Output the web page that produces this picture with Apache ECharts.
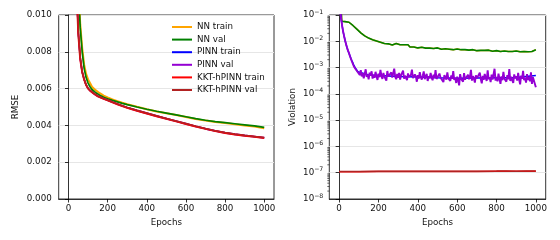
<!DOCTYPE html>
<html>
<head>
<meta charset="utf-8">
<script src="https://cdn.jsdelivr.net/npm/echarts@6/dist/echarts.min.js"></script>
<style>html,body{margin:0;padding:0;background:#fff;}#c{width:560px;height:240px;}</style>
</head>
<body>
<div id="c"></div>
<script>
// ---------- data ----------
const seriesNames = ['NN train', 'NN val', 'PINN train', 'PINN val', 'KKT-hPINN train', 'KKT-hPINN val'];
const seriesColors = ['#ffa500', '#008000', '#0000ff', '#9400d3', '#ff0000', '#b22222'];
const xTicks = [0, 200, 400, 600, 800, 1000];

// RMSE (left panel)
const rmseEpochs = [1, 10, 20, 30, 40, 50, 60, 70, 80, 90, 100, 110, 120, 130, 140, 150, 160, 180, 200, 225, 250, 275, 300, 350, 400, 450, 500, 550, 600, 650, 700, 750, 800, 850, 900, 950, 1000];
const rmseNNTrain = [0.061, 0.041, 0.029, 0.021, 0.0155, 0.0117, 0.0095, 0.0082, 0.0073, 0.0068, 0.0065, 0.0063, 0.0061, 0.0060, 0.00590, 0.00582, 0.00575, 0.00562, 0.00552, 0.00541, 0.00532, 0.00523, 0.00515, 0.00501, 0.00488, 0.00476, 0.00466, 0.00456, 0.00446, 0.00435, 0.00426, 0.00419, 0.00413, 0.00406, 0.00400, 0.00394, 0.00385];
const rmseNNVal   = [0.060, 0.040, 0.028, 0.020, 0.0150, 0.0115, 0.0093, 0.0080, 0.0071, 0.0066, 0.0063, 0.0061, 0.00595, 0.00586, 0.00577, 0.00570, 0.00564, 0.00553, 0.00545, 0.00536, 0.00528, 0.00520, 0.00513, 0.00500, 0.00488, 0.00477, 0.00467, 0.00457, 0.00447, 0.00437, 0.00428, 0.00421, 0.00415, 0.00409, 0.00403, 0.00397, 0.00389];
const rmsePINNTrain = [0.055, 0.035, 0.024, 0.0170, 0.0118, 0.0090, 0.0076, 0.0069, 0.0065, 0.0062, 0.00600, 0.00589, 0.00580, 0.00572, 0.00565, 0.00558, 0.00553, 0.00544, 0.00536, 0.00525, 0.00515, 0.00505, 0.00496, 0.00480, 0.00465, 0.00450, 0.00436, 0.00422, 0.00408, 0.00394, 0.00381, 0.00369, 0.00359, 0.00351, 0.00344, 0.00338, 0.00332];
const rmsePINNVal   = [0.055, 0.035, 0.024, 0.0171, 0.0119, 0.0091, 0.0077, 0.0069, 0.0065, 0.0062, 0.00602, 0.00591, 0.00582, 0.00574, 0.00567, 0.00560, 0.00555, 0.00546, 0.00538, 0.00527, 0.00517, 0.00507, 0.00498, 0.00482, 0.00467, 0.00452, 0.00438, 0.00424, 0.00410, 0.00396, 0.00383, 0.00371, 0.00361, 0.00353, 0.00346, 0.00340, 0.00334];
const rmseKKTTrain = [0.055, 0.035, 0.024, 0.0170, 0.0118, 0.0090, 0.0076, 0.0069, 0.0065, 0.0062, 0.00600, 0.00589, 0.00580, 0.00572, 0.00565, 0.00558, 0.00553, 0.00544, 0.00536, 0.00525, 0.00515, 0.00505, 0.00496, 0.00480, 0.00465, 0.00450, 0.00436, 0.00422, 0.00408, 0.00394, 0.00381, 0.00369, 0.00359, 0.00351, 0.00344, 0.00338, 0.00332];
const rmseKKTVal   = [0.055, 0.035, 0.024, 0.0171, 0.0119, 0.0091, 0.0077, 0.0069, 0.0065, 0.0062, 0.00602, 0.00591, 0.00582, 0.00574, 0.00567, 0.00560, 0.00555, 0.00546, 0.00538, 0.00527, 0.00517, 0.00507, 0.00498, 0.00482, 0.00467, 0.00452, 0.00438, 0.00424, 0.00410, 0.00396, 0.00383, 0.00371, 0.00361, 0.00353, 0.00346, 0.00340, 0.00334];

// Violation (right panel)
const logTickExponents = [-8, -7, -6, -5, -4, -3, -2, -1];
const logMinorMantissas = [2, 3, 4, 5, 6, 7, 8, 9];

const vioNNValEpochs = [0, 10, 13, 20, 30, 40, 50, 60, 70, 80, 90, 100, 110, 120, 130, 140, 150, 160, 170, 180, 190,
  200, 210, 220, 230, 240, 250, 260, 270, 280, 290, 300, 310, 320, 330, 340, 350, 360, 370, 380, 390,
  400, 410, 420, 430, 440, 450, 460, 470, 480, 490, 500, 510, 520, 530, 540, 550, 560, 570, 580, 590,
  600, 610, 620, 630, 640, 650, 660, 670, 680, 690, 700, 710, 720, 730, 740, 750, 760, 770, 780, 790,
  800, 810, 820, 830, 840, 850, 860, 870, 880, 890, 900, 910, 920, 930, 940, 950, 960, 970, 980, 990, 1000];
const vioNNVal = [0.5, 0.2, 0.058, 0.057, 0.056, 0.055, 0.053, 0.047, 0.040, 0.034, 0.029, 0.025, 0.021, 0.018, 0.016, 0.0143, 0.0132, 0.0123, 0.0115, 0.0109, 0.0103,
  0.0099, 0.0092, 0.0095, 0.0082, 0.0091, 0.0080, 0.0085, 0.0072, 0.0077, 0.0082, 0.0070, 0.0074, 0.0063, 0.0074, 0.0066, 0.0074, 0.0061, 0.0066, 0.0061, 0.0068,
  0.0056, 0.0064, 0.0059, 0.0066, 0.0055, 0.0061, 0.0055, 0.0062, 0.0053, 0.0060, 0.0056, 0.0061, 0.0050, 0.0056, 0.0052, 0.0061, 0.0050, 0.0056, 0.0048, 0.0056,
  0.0051, 0.0056, 0.0048, 0.0053, 0.0048, 0.0056, 0.0046, 0.0053, 0.0048, 0.0052, 0.0044, 0.0050, 0.0045, 0.0052, 0.0045, 0.0049, 0.0046, 0.0052, 0.0042, 0.0049,
  0.0044, 0.0050, 0.0041, 0.0046, 0.0043, 0.0050, 0.0041, 0.0046, 0.0041, 0.0047, 0.0043, 0.0048, 0.0040, 0.0045, 0.0041, 0.0047, 0.0040, 0.0046, 0.0041, 0.0046, 0.0048];
// NN train violation coincides with NN val in the reference (fully covered)
const vioNNTrainEpochs = vioNNValEpochs;
const vioNNTrain = vioNNVal;

const vioPINNTrainEpochs = [0, 5, 8, 10, 15, 20, 25, 30, 35, 40, 45, 50, 55, 60, 65, 70, 75, 80, 85, 90, 95, 100, 150, 200, 300, 400, 500, 600, 700, 800, 900, 1000];
const vioPINNTrain = [0.5, 0.2, 0.1, 0.075, 0.04, 0.024, 0.016, 0.011, 0.0078, 0.0058, 0.0044, 0.0035, 0.0028, 0.0022, 0.0018, 0.0015, 0.0012, 0.00105, 0.0009, 0.0008, 0.0007, 0.00062, 0.00052, 0.00050, 0.00046, 0.00044, 0.00041, 0.00039, 0.00040, 0.00041, 0.00042, 0.00050];

const vioPINNValEarlyEpochs = [0, 5, 8, 10, 15, 20, 25, 30, 35, 40, 45, 50, 55, 60, 65, 70, 75, 80, 85, 90, 95];
const vioPINNValEarly = [0.5, 0.2, 0.1, 0.075, 0.04, 0.024, 0.016, 0.011, 0.0078, 0.0058, 0.0044, 0.0036, 0.0027, 0.0023, 0.0017, 0.0016, 0.0011, 0.00108, 0.00085, 0.00082, 0.00066];
// epochs 100, 105, ..., 1000
const vioPINNValLate = [
  6.8e-4, 5.2e-4, 7.9e-4, 4.6e-4, 6.1e-4, 3.9e-4, 5.8e-4, 8.6e-4, 4.4e-4, 5.5e-4,
  3.6e-4, 6.4e-4, 4.9e-4, 7.2e-4, 3.8e-4, 5.3e-4, 4.1e-4, 6.9e-4, 4.7e-4, 3.4e-4,
  5.9e-4, 4.3e-4, 8.1e-4, 4.8e-4, 3.7e-4, 6.2e-4, 4.5e-4, 5.1e-4, 3.2e-4, 7.4e-4,
  4.6e-4, 5.4e-4, 3.9e-4, 6.6e-4, 4.2e-4, 5.0e-4, 9.1e-4, 4.4e-4, 3.6e-4, 5.7e-4,
  4.1e-4, 6.3e-4, 3.5e-4, 5.2e-4, 4.7e-4, 7.6e-4, 3.8e-4, 4.9e-4, 5.6e-4, 3.3e-4,
  6.0e-4, 4.4e-4, 3.7e-4, 5.3e-4, 8.4e-4, 4.0e-4, 3.4e-4, 5.5e-4, 4.6e-4, 2.9e-4,
  5.1e-4, 3.8e-4, 6.7e-4, 4.3e-4, 3.5e-4, 4.9e-4, 7.1e-4, 3.6e-4, 4.5e-4, 5.8e-4,
  3.1e-4, 4.7e-4, 3.9e-4, 6.2e-4, 4.1e-4, 3.3e-4, 5.4e-4, 4.0e-4, 8.0e-4, 3.7e-4,
  4.4e-4, 3.2e-4, 5.9e-4, 4.2e-4, 3.6e-4, 4.8e-4, 2.8e-4, 5.2e-4, 4.3e-4, 3.5e-4,
  6.5e-4, 3.9e-4, 4.6e-4, 3.1e-4, 5.0e-4, 3.8e-4, 7.3e-4, 3.4e-4, 4.1e-4, 2.6e-4,
  4.5e-4, 3.3e-4, 2.1e-4, 5.6e-4, 3.7e-4, 4.2e-4, 2.9e-4, 6.1e-4, 3.5e-4, 4.0e-4,
  3.0e-4, 5.3e-4, 3.6e-4, 4.4e-4, 8.2e-4, 3.2e-4, 4.7e-4, 3.8e-4, 2.7e-4, 5.1e-4,
  3.9e-4, 4.6e-4, 3.3e-4, 6.4e-4, 3.7e-4, 2.5e-4, 4.8e-4, 3.4e-4, 5.7e-4, 4.0e-4,
  3.1e-4, 7.8e-4, 3.6e-4, 4.3e-4, 2.8e-4, 5.4e-4, 3.5e-4, 4.1e-4, 9.0e-4, 3.2e-4,
  4.4e-4, 3.0e-4, 5.9e-4, 3.7e-4, 2.4e-4, 4.6e-4, 3.3e-4, 6.8e-4, 3.8e-4, 4.2e-4,
  2.9e-4, 5.2e-4, 3.6e-4, 8.8e-4, 3.1e-4, 4.5e-4, 3.4e-4, 2.6e-4, 5.5e-4, 3.9e-4,
  4.7e-4, 3.2e-4, 6.3e-4, 3.5e-4, 2.3e-4, 4.9e-4, 3.8e-4, 7.5e-4, 3.3e-4, 4.1e-4,
  2.7e-4, 5.6e-4, 3.4e-4, 4.4e-4, 3.0e-4, 6.6e-4, 2.4e-4, 4.3e-4, 3.7e-4, 5.0e-4,
  1.8e-4];
const vioPINNValLateStart = 100, vioPINNValLateStep = 5;

const vioKKTEpochs = [0, 100, 200, 300, 400, 500, 600, 700, 800, 850, 900, 950, 1000];
const vioKKTTrain = [1.10e-7, 1.10e-7, 1.11e-7, 1.11e-7, 1.11e-7, 1.12e-7, 1.12e-7, 1.12e-7, 1.13e-7, 1.13e-7, 1.13e-7, 1.13e-7, 1.13e-7];
const vioKKTVal   = [1.12e-7, 1.12e-7, 1.13e-7, 1.13e-7, 1.13e-7, 1.14e-7, 1.14e-7, 1.14e-7, 1.15e-7, 1.17e-7, 1.14e-7, 1.16e-7, 1.15e-7];

// ---------- build ----------
const zip = (xs, ys) => xs.map((x, i) => [x, ys[i]]);
const pinnValPairs = zip(vioPINNValEarlyEpochs, vioPINNValEarly)
  .concat(vioPINNValLate.map((v, i) => [vioPINNValLateStart + i * vioPINNValLateStep, v]));

const FONT = 'DejaVu Sans';
const TXT = '#111';
const FS = 8.7;

function lineSeries(name, idx, data, xi, yi, w) {
  return {
    type: 'line', name: name, xAxisIndex: xi, yAxisIndex: yi, data: data,
    showSymbol: false, symbol: 'none', animation: false, silent: true,
    lineStyle: { color: seriesColors[idx], width: w || 1.5 },
    itemStyle: { color: seriesColors[idx] },
    z: 2 + idx
  };
}

const minorTickData = [];
logTickExponents.slice(0, -1).forEach(e => logMinorMantissas.forEach(m => minorTickData.push([-50, m * Math.pow(10, e)])));

const xAxisBase = (gi) => ({
  type: 'value', gridIndex: gi, min: -50, max: 1050,
  name: 'Epochs', nameLocation: 'middle', nameGap: 18,
  nameTextStyle: { fontFamily: FONT, fontSize: FS, color: TXT },
  axisLine: { show: true, lineStyle: { color: '#000', width: 0.8 } },
  axisTick: { show: true, length: 3.5, lineStyle: { color: '#000', width: 0.8 }, customValues: xTicks },
  axisLabel: { show: true, margin: 5, fontFamily: FONT, fontSize: FS, color: TXT, customValues: xTicks, formatter: v => String(v) },
  splitLine: { show: false }
});

const option = {
  animation: false,
  backgroundColor: '#fff',
  textStyle: { fontFamily: FONT },
  grid: [
    { left: 58.7, right: 286, top: 15, bottom: 41, show: true, borderColor: '#000', borderWidth: 0.8, backgroundColor: 'transparent', containLabel: false },
    { left: 329.3, right: 14.3, top: 15, bottom: 41, show: true, borderColor: '#000', borderWidth: 0.8, backgroundColor: 'transparent', containLabel: false }
  ],
  legend: {
    data: seriesNames, orient: 'vertical', left: 167, top: 17,
    icon: 'rect', itemWidth: 20, itemHeight: 2, itemGap: 2.6,
    textStyle: { fontFamily: FONT, fontSize: FS, color: TXT, lineHeight: 10 },
    selectedMode: false
  },
  xAxis: [xAxisBase(0), xAxisBase(1)],
  yAxis: [
    {
      type: 'value', gridIndex: 0, min: 0, max: 0.010, interval: 0.002,
      name: 'RMSE', nameLocation: 'middle', nameGap: 38, nameRotate: 90,
      nameTextStyle: { fontFamily: FONT, fontSize: FS, color: TXT },
      axisLine: { show: true, lineStyle: { color: '#000', width: 0.8 } },
      axisTick: { show: true, length: 3.5, lineStyle: { color: '#000', width: 0.8 } },
      axisLabel: { margin: 7, fontFamily: FONT, fontSize: FS, color: TXT, formatter: v => v.toFixed(3) },
      splitLine: { show: true, lineStyle: { color: '#e6e6e6', width: 1 } }
    },
    {
      type: 'log', gridIndex: 1, min: 1e-8, max: 1e-1, logBase: 10, splitNumber: 7,
      name: 'Violation', nameLocation: 'middle', nameGap: 32, nameRotate: 90,
      nameTextStyle: { fontFamily: FONT, fontSize: FS, color: TXT },
      axisLine: { show: true, lineStyle: { color: '#000', width: 0.8 } },
      axisTick: { show: true, length: 3.5, lineStyle: { color: '#000', width: 0.8 } },
      axisLabel: {
        margin: 6, fontFamily: FONT, color: TXT,
        formatter: v => '{b|10}{s|\u2212' + Math.abs(Math.round(Math.log10(v))) + '}',
        rich: {
          b: { fontFamily: FONT, fontSize: FS, color: TXT },
          s: { fontFamily: FONT, fontSize: 6.2, color: TXT, padding: [0, 0, 6, 0] }
        }
      },
      splitLine: { show: true, lineStyle: { color: '#e6e6e6', width: 1 } }
    }
  ],
  series: [
    lineSeries('NN train', 0, zip(rmseEpochs, rmseNNTrain), 0, 0, 2),
    lineSeries('NN val', 1, zip(rmseEpochs, rmseNNVal), 0, 0, 1.7),
    lineSeries('PINN train', 2, zip(rmseEpochs, rmsePINNTrain), 0, 0),
    lineSeries('PINN val', 3, zip(rmseEpochs, rmsePINNVal), 0, 0),
    lineSeries('KKT-hPINN train', 4, zip(rmseEpochs, rmseKKTTrain), 0, 0, 2),
    lineSeries('KKT-hPINN val', 5, zip(rmseEpochs, rmseKKTVal), 0, 0, 1.5),

    lineSeries('NN train', 0, zip(vioNNTrainEpochs, vioNNTrain), 1, 1),
    lineSeries('NN val', 1, zip(vioNNValEpochs, vioNNVal), 1, 1, 1.6),
    lineSeries('PINN train', 2, zip(vioPINNTrainEpochs, vioPINNTrain), 1, 1),
    lineSeries('PINN val', 3, pinnValPairs, 1, 1, 1.9),
    lineSeries('KKT-hPINN train', 4, zip(vioKKTEpochs, vioKKTTrain), 1, 1),
    lineSeries('KKT-hPINN val', 5, zip(vioKKTEpochs, vioKKTVal), 1, 1),
    {
      type: 'custom', xAxisIndex: 1, yAxisIndex: 1, data: minorTickData, clip: false, silent: true, z: 20,
      renderItem: function (params, api) {
        const p = api.coord([api.value(0), api.value(1)]);
        return { type: 'line', shape: { x1: p[0] - 2, y1: p[1], x2: p[0], y2: p[1] }, style: { stroke: '#000', lineWidth: 0.6 } };
      }
    }
  ]
};

const chart = echarts.init(document.getElementById('c'), null, { renderer: 'canvas', width: 560, height: 240 });
chart.setOption(option);
</script>
</body>
</html>
